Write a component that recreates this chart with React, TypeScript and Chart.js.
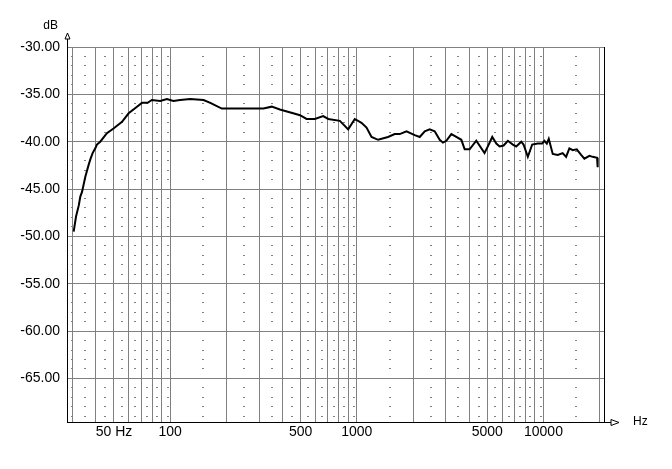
import React, { useEffect, useRef } from "react";
import { Chart, registerables } from "chart.js";

Chart.register(...registerables);

// Measured response (Hz, dB)
const freqs = [
  30.4, 31.3, 32.4, 33.0, 33.7, 35.1, 36.5, 37.3, 38.4, 39.7, 40.5, 42.2, 45.8, 49.7, 55.2, 59.9,
  66.4, 70.6, 75.7, 79.8, 88.5, 96, 104, 113, 128, 151, 164, 189, 218, 257, 316, 350, 387, 456,
  496, 538, 596, 660, 703, 811, 899, 975, 1059, 1127, 1199, 1300, 1469, 1596, 1698, 1845, 2043,
  2173, 2311, 2457, 2613, 2780, 2893, 3017, 3209, 3413, 3630, 3783, 4020, 4365, 4833, 5035, 5316,
  5588, 5818, 6113, 6445, 6852, 7146, 7601, 7819, 8245, 8702, 9320, 9836, 10118, 10420, 10675,
  11211, 11924, 12672, 13218, 13763, 14355, 15076, 15911, 16563, 17620, 18362, 19370, 19510,
];
const levels = [
  -49.5, -47.9, -46.7, -45.8, -45.3, -43.7, -42.5, -41.9, -41.2, -40.7, -40.3, -40.0, -39.1, -38.6,
  -37.9, -37.0, -36.3, -35.9, -35.9, -35.6, -35.7, -35.5, -35.7, -35.6, -35.5, -35.6, -35.9, -36.5,
  -36.5, -36.5, -36.5, -36.3, -36.6, -37.0, -37.2, -37.6, -37.6, -37.3, -37.6, -37.8, -38.7, -37.6,
  -38.0, -38.5, -39.5, -39.8, -39.5, -39.2, -39.2, -38.9, -39.3, -39.5, -38.9, -38.7, -38.9, -39.8,
  -40.1, -39.9, -39.2, -39.5, -39.8, -40.8, -40.8, -39.9, -41.2, -40.5, -39.5, -40.2, -40.5, -40.4,
  -39.9, -40.3, -40.5, -40.0, -40.3, -41.6, -40.3, -40.2, -40.2, -39.9, -40.2, -39.7, -41.3, -41.4,
  -41.2, -41.6, -40.7, -40.9, -40.8, -41.4, -41.8, -41.5, -41.6, -41.7, -42.7,
];

// Axis ranges
const xMin = 28;
const xMax = 21100;
const yMin = -69.6;
const yMax = -30;

// Grid / tick definitions
const xGridFreqs = [
  30, 40, 50, 60, 70, 80, 90, 100, 200, 300, 400, 500, 600, 700, 800, 900, 1000, 2000, 3000, 4000,
  5000, 6000, 7000, 8000, 9000, 10000, 20000,
];
const xLabelFreqs = [50, 100, 500, 1000, 5000, 10000];
const xLabelTexts = ["50 Hz", "100", "500", "1000", "5000", "10000"];
const yTickValues = [-30, -35, -40, -45, -50, -55, -60, -65];

// Minor dotted grid marks
const dashFreqs = [
  29.7, 35, 45, 55, 65, 75, 85, 97, 150, 250, 350, 450, 550, 650, 750, 850, 970, 1500, 2500, 3500,
  4500, 5500, 6500, 7500, 8500, 9700, 15000,
];
const dashLevels = [
  -31, -32, -33, -34, -36, -37, -38, -39, -41, -42, -43, -44, -46, -47, -48, -49, -51, -52, -53,
  -54, -56, -57, -58, -59, -61, -62, -63, -64, -66, -67, -68, -69,
];

const FONT = "'Liberation Sans', Arial, sans-serif";

const decorPlugin = {
  id: "decor",
  beforeDatasetsDraw(chart: any) {
    const { ctx, scales } = chart;
    const x = scales.x;
    const y = scales.y;
    ctx.save();
    ctx.fillStyle = "#808080";
    for (const f of dashFreqs) {
      const px = Math.round(x.getPixelForValue(f));
      for (const l of dashLevels) {
        const py = Math.floor(y.getPixelForValue(l));
        ctx.fillRect(px - 1, py, 2, 1);
      }
    }
    ctx.restore();
  },
  afterDraw(chart: any) {
    const { ctx, chartArea: a } = chart;
    ctx.save();
    ctx.strokeStyle = "#000";
    ctx.lineWidth = 1;
    // right border
    ctx.beginPath();
    ctx.moveTo(a.right + 0.5, a.top);
    ctx.lineTo(a.right + 0.5, a.bottom + 1);
    ctx.stroke();
    // y axis extension + arrow
    const lx = a.left + 0.5;
    ctx.beginPath();
    ctx.moveTo(lx, a.top);
    ctx.lineTo(lx, a.top - 8);
    ctx.stroke();
    ctx.beginPath();
    ctx.moveTo(lx, a.top - 14);
    ctx.lineTo(lx - 2.5, a.top - 8);
    ctx.lineTo(lx + 2.5, a.top - 8);
    ctx.closePath();
    ctx.fillStyle = "#fff";
    ctx.fill();
    ctx.stroke();
    // x axis extension + arrow
    const by = a.bottom + 0.5;
    ctx.beginPath();
    ctx.moveTo(a.right, by);
    ctx.lineTo(a.right + 7, by);
    ctx.stroke();
    ctx.beginPath();
    ctx.moveTo(a.right + 15, by);
    ctx.lineTo(a.right + 7, by - 3);
    ctx.lineTo(a.right + 7, by + 3);
    ctx.closePath();
    ctx.fill();
    ctx.stroke();
    // unit labels
    ctx.fillStyle = "#000";
    ctx.font = `12px ${FONT}`;
    ctx.textBaseline = "alphabetic";
    ctx.textAlign = "right";
    ctx.fillText("dB", a.left - 9, a.top - 18);
    ctx.textAlign = "left";
    ctx.fillText("Hz", a.right + 29, a.bottom + 2.5);
    ctx.restore();
  },
};

export default function App() {
  const canvasRef = useRef<HTMLCanvasElement | null>(null);

  useEffect(() => {
    const canvas = canvasRef.current;
    if (!canvas) return;
    const points = freqs.map((f, i) => ({ x: f, y: levels[i] }));
    const chart = new Chart(canvas, {
      type: "line",
      data: {
        datasets: [
          {
            data: points,
            borderColor: "#000",
            borderWidth: 2,
            pointRadius: 0,
            tension: 0,
            fill: false,
          },
        ],
      },
      options: {
        animation: false,
        responsive: false,
        devicePixelRatio: 1,
        layout: { padding: { top: 47, right: 68, bottom: 0, left: 0 } },
        plugins: { legend: { display: false }, tooltip: { enabled: false } },
        scales: {
          x: {
            type: "logarithmic",
            min: xMin,
            max: xMax,
            afterBuildTicks: (s: any) => {
              s.ticks = xGridFreqs.map((v) => ({ value: v }));
            },
            afterFit: (s: any) => {
              s.height = 47;
            },
            grid: { color: "#808080", lineWidth: 1, drawTicks: false },
            border: { display: true, color: "#000", width: 1 },
            ticks: {
              autoSkip: false,
              maxRotation: 0,
              minRotation: 0,
              padding: 2,
              color: "#000",
              font: { family: FONT, size: 14 },
              callback: (v: any) => {
                const i = xLabelFreqs.indexOf(Number(v));
                return i >= 0 ? xLabelTexts[i] : "";
              },
            },
          },
          y: {
            type: "linear",
            min: yMin,
            max: yMax,
            afterBuildTicks: (s: any) => {
              s.ticks = yTickValues.map((v) => ({ value: v }));
            },
            afterFit: (s: any) => {
              s.width = 67;
            },
            grid: { color: "#808080", lineWidth: 1, drawTicks: false },
            border: { display: true, color: "#000", width: 1 },
            ticks: {
              padding: 7,
              color: "#000",
              font: { family: FONT, size: 14 },
              callback: (v: any) => Number(v).toFixed(2),
            },
          },
        },
      },
      plugins: [decorPlugin],
    });
    return () => chart.destroy();
  }, []);

  return (
    <div style={{ position: "absolute", left: 0, top: 0, width: 672, height: 469, background: "#fff" }}>
      <canvas ref={canvasRef} width={672} height={469} style={{ display: "block" }} />
    </div>
  );
}
